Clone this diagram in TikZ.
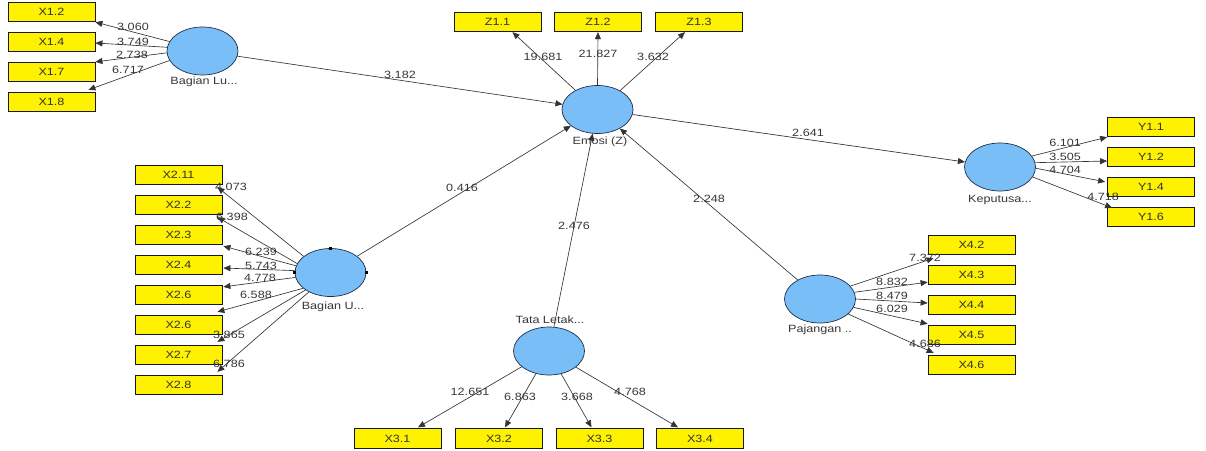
\documentclass[tikz,border=0pt]{standalone}
\usepackage{fontspec}
\setmainfont{Liberation Sans}[FakeStretch=1.2]
\usetikzlibrary{arrows.meta,shapes.geometric,calc}
\definecolor{latblue}{RGB}{122,190,248}
\definecolor{latline}{RGB}{30,45,70}
\definecolor{txt}{RGB}{55,55,55}
\begin{document}
\begin{tikzpicture}[x=1pt,y=-1pt,
 ind/.style={draw=black!90, fill=yellow, line width=0.8pt, minimum width=87pt, minimum height=19.5pt, inner sep=0pt, font=\fontsize{10.5}{12}\selectfont, text=black!80},
 lat/.style={ellipse, draw=latline, fill=latblue, line width=0.7pt, minimum width=71pt, minimum height=48pt, inner sep=0pt},
 latcap/.style={font=\fontsize{10.5}{12}\selectfont, text=txt, inner sep=0pt},
 num/.style={font=\fontsize{10.5}{12}\selectfont, text=txt, inner sep=0pt},
 con/.style={draw=black!80, line width=0.65pt, -{Triangle[length=7pt,width=6pt]}},
 hnd/.style={fill=black, minimum size=3pt, inner sep=0pt, draw=none}
]
\useasboundingbox (0,0) rectangle (1206,450);
% latent variables
\node[lat] (bl) at (202.5,51) {};
\node[lat] (emo) at (597.5,109.5) {};
\node[lat] (kp) at (1000,167) {};
\node[lat] (bu) at (330.5,272.5) {};
\node[lat] (tl) at (549,351) {};
\node[lat] (pj) at (820,299) {};
\node[latcap] (cbl) at (204,82) {Bagian Lu...};
\node[latcap] (cemo) at (600,142) {Emosi (Z)};
\node[latcap] (ckp) at (1000,200) {Keputusa...};
\node[latcap] (cbu) at (333,307) {Bagian U...};
\node[latcap] (ctl) at (550,320) {Tata Letak...};
\node[latcap] (cpj) at (820,330) {Pajangan ..};
% handles
\node[hnd] (h1) at (bu.north) {};
\node[hnd] (h2) at (bu.west) {};
\node[hnd] (h3) at (bu.east) {};
% indicators
\node[ind] (x12) at (51.5,12) {X1.2};
\node[ind] (x14) at (51.5,42) {X1.4};
\node[ind] (x17) at (51.5,72) {X1.7};
\node[ind] (x18) at (51.5,102) {X1.8};
\node[ind] (z11) at (497.5,22) {Z1.1};
\node[ind] (z12) at (598,22) {Z1.2};
\node[ind] (z13) at (699,22) {Z1.3};
\node[ind] (y11) at (1151,127) {Y1.1};
\node[ind] (y12) at (1151,157) {Y1.2};
\node[ind] (y14) at (1151,187) {Y1.4};
\node[ind] (y16) at (1151,217) {Y1.6};
\node[ind] (x211) at (178.5,175) {X2.11};
\node[ind] (x22) at (178.5,205) {X2.2};
\node[ind] (x23) at (178.5,235) {X2.3};
\node[ind] (x24) at (178.5,265) {X2.4};
\node[ind] (x25) at (178.5,295) {X2.6};
\node[ind] (x26) at (178.5,325) {X2.6};
\node[ind] (x27) at (178.5,355) {X2.7};
\node[ind] (x28) at (178.5,385) {X2.8};
\node[ind] (x31) at (397.5,438.5) {X3.1};
\node[ind] (x32) at (499,438.5) {X3.2};
\node[ind] (x33) at (599.5,438.5) {X3.3};
\node[ind] (x34) at (700,438.5) {X3.4};
\node[ind] (x42) at (971.5,245) {X4.2};
\node[ind] (x43) at (971.5,275) {X4.3};
\node[ind] (x44) at (971.5,305) {X4.4};
\node[ind] (x45) at (971.5,335) {X4.5};
\node[ind] (x46) at (971.5,365) {X4.6};
% labels
\node[num] (n1) at (133,27) {3.060};
\node[num] (n2) at (133,42) {3.749};
\node[num] (n3) at (132,55) {2.738};
\node[num] (n4) at (128,70) {6.717};
\node[num] (n5) at (543,57) {19.681};
\node[num] (n6) at (598,54) {21.827};
\node[num] (n7) at (653,57) {3.632};
\node[num] (n8) at (1065,143) {6.101};
\node[num] (n9) at (1065,157) {3.505};
\node[num] (n10) at (1065,170) {4.704};
\node[num] (n11) at (1103,197) {4.718};
\node[num] (n12) at (231,187) {4.073};
\node[num] (n13) at (232,217) {6.398};
\node[num] (n14) at (261,252) {6.239};
\node[num] (n15) at (261,266) {5.743};
\node[num] (n16) at (260,278) {4.778};
\node[num] (n17) at (256,295) {6.588};
\node[num] (n18) at (229,335) {3.865};
\node[num] (n19) at (229,364) {6.786};
\node[num] (n20) at (470,392) {12.651};
\node[num] (n21) at (520,397) {6.863};
\node[num] (n22) at (577,397) {3.668};
\node[num] (n23) at (630,392) {4.768};
\node[num] (n24) at (925,258) {7.372};
\node[num] (n25) at (892,282) {8.832};
\node[num] (n26) at (892,296) {8.479};
\node[num] (n27) at (892,309) {6.029};
\node[num] (n28) at (925,344) {4.686};
\node[num] (p1) at (400,75) {3.182};
\node[num] (p2) at (462,188) {0.416};
\node[num] (p3) at (574,226) {2.476};
\node[num] (p4) at (709,199) {2.248};
\node[num] (p5) at (808,133) {2.641};
% inner model
\draw[con] (bl) -- (emo);
\draw[con] (bu) -- (emo);
\draw[con] (tl) -- (emo);
\draw[con] (pj) -- (emo);
\draw[con] (emo) -- (kp);
% Bagian Lu
\draw[con] (bl.164) -- (x12.south east);
\draw[con] (bl.174) -- ($(x14.east)+(0,1)$);
\draw[con] (bl.183) -- (x17.north east);
\draw[con] (bl.196) -- ($(x18.north east)+(-7,-2)$);
% Emosi
\draw[con] (emo.139) -- ($(z11.south)+(15,0)$);
\draw[con] (emo.90) -- (z12.south);
\draw[con] (emo.40) -- ($(z13.south)+(-14,0)$);
% Keputusan
\draw[con] (kp.19) -- (y11.south west);
\draw[con] (kp.7) -- ($(y12.west)+(0,4)$);
\draw[con] (kp.358) -- ($(y14.north west)+(-2,5)$);
\draw[con] (kp.343) -- ($(y16.north west)+(5,1)$);
% Bagian U
\draw[con] (bu.149) -- ($(x211.south east)+(-5,2)$);
\draw[con] (bu.165) -- ($(x22.south east)+(-5,2)$);
\draw[con] (bu.169) -- ($(x23.south east)+(1,1)$);
\draw[con] (bu.177) -- ($(x24.east)+(1,3)$);
\draw[con] (bu.188) -- ($(x25.north east)+(1,2)$);
\draw[con] (bu.210) -- ($(x26.north east)+(-5,-3)$);
\draw[con] (bu.215) -- ($(x27.north east)+(-5,-3)$);
\draw[con] (bu.222) -- ($(x28.north east)+(-5,-3)$);
% Tata Letak
\draw[con] (tl.210) -- ($(x31.north)+(20.5,-1)$);
\draw[con] (tl.240) -- ($(x32.north)+(6,-1)$);
\draw[con] (tl.298) -- ($(x33.north)+(-8,-1)$);
\draw[con] (tl.329) -- ($(x34.north)+(-22,-1)$);
% Pajangan
\draw[con] (pj.23) -- ($(x42.south west)+(6,3)$);
\draw[con] (pj.11) -- ($(x43.south west)+(0,-3)$);
\draw[con] (pj.0) -- ($(x44.west)+(0,-2)$);
\draw[con] (pj.346) -- ($(x45.north west)+(0,-1)$);
\draw[con] (pj.332) -- ($(x46.north west)+(6,-2)$);
\end{tikzpicture}
\end{document}
